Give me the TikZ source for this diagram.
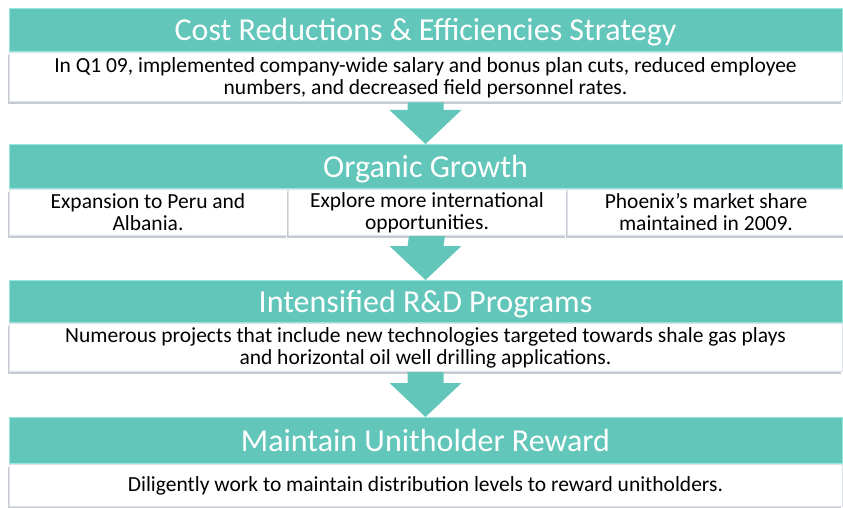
\documentclass[tikz,border=0pt]{standalone}
\usepackage{fontspec}
\setmainfont{Carlito}
\usetikzlibrary{positioning,shadows,calc}

\definecolor{tealHead}{RGB}{98,198,186}
\definecolor{tealEdge}{RGB}{150,232,222}
\definecolor{bodyLine}{RGB}{222,225,231}
\definecolor{bodyShadow}{RGB}{198,203,211}

\begin{document}
\begin{tikzpicture}[x=1pt,y=-1pt]
    \tikzset{Header/.style = {shape=rectangle,fill=tealHead,draw=tealEdge,line width=1pt,text=white,anchor=north west,inner sep=0pt,minimum width=833pt,text height=21pt,text depth=0pt,font=\fontsize{32}{34}\selectfont}}
    \tikzset{Body/.style = {shape=rectangle,fill=white,draw=bodyLine,line width=1pt,anchor=north west,inner sep=0pt,align=center,minimum width=833pt,font=\fontsize{21.5}{22}\selectfont,
        drop shadow={shadow xshift=-1.5pt,shadow yshift=-2.5pt,fill=bodyShadow,opacity=1}}}
    \tikzset{Cell/.style = {Body,minimum width=278pt}}

    \tikzset{myArrow/.style = {fill=tealHead,
        to path={($(\tikztostart)+(-18,0)$) -- ($(\tikztotarget)+(-18,-34)$) -- ($(\tikztotarget)+(-36,-34)$) -- (\tikztotarget)
                 -- ($(\tikztotarget)+(36,-34)$) -- ($(\tikztotarget)+(18,-34)$) -- ($(\tikztostart)+(18,0)$) -- cycle}}}

    \useasboundingbox (0,0) rectangle (843,508);

    %Cost reductions
    \node[Header,minimum height=43pt] (headCost) at (8.5,8.5) {Cost Reductions \& Efficiencies Strategy};
    \node[Body,minimum height=49pt] (bodyCost) at (headCost.south west) {In Q1 09, implemented company-wide salary and bonus plan cuts, reduced employee\\numbers, and decreased field personnel rates.};

    %Organic growth, three cells
    \node[Header,minimum height=44pt] (headOrganic) at (8.5,144) {Organic Growth};
    \node[Cell,minimum height=46pt] (cellPeru) at (headOrganic.south west) {Expansion to Peru and\\Albania.};
    \node[Cell,minimum height=46pt,right=0pt of cellPeru] (cellExplore) {Explore more international\\opportunities.};
    \node[Cell,minimum height=46pt,right=0pt of cellExplore] (cellPhoenix) {Phoenix’s market share\\maintained in 2009.};

    %R&D
    \node[Header,minimum height=42pt] (headRD) at (8.5,280) {Intensified R\&D Programs};
    \node[Body,minimum height=48pt] (bodyRD) at (headRD.south west) {Numerous projects that include new technologies targeted towards shale gas plays\\and horizontal oil well drilling applications.};

    %Unitholders
    \node[Header,minimum height=46pt] (headReward) at (8.5,417) {Maintain Unitholder Reward};
    \node[Body,minimum height=42pt] (bodyReward) at (headReward.south west) {Diligently work to maintain distribution levels to reward unitholders.};

    %Flechas entre bloques
    \path [myArrow] (bodyCost.south) to (headOrganic.north);
    \path [myArrow] (cellExplore.south) to (headRD.north);
    \path [myArrow] (bodyRD.south) to (headReward.north);

\end{tikzpicture}
\end{document}
